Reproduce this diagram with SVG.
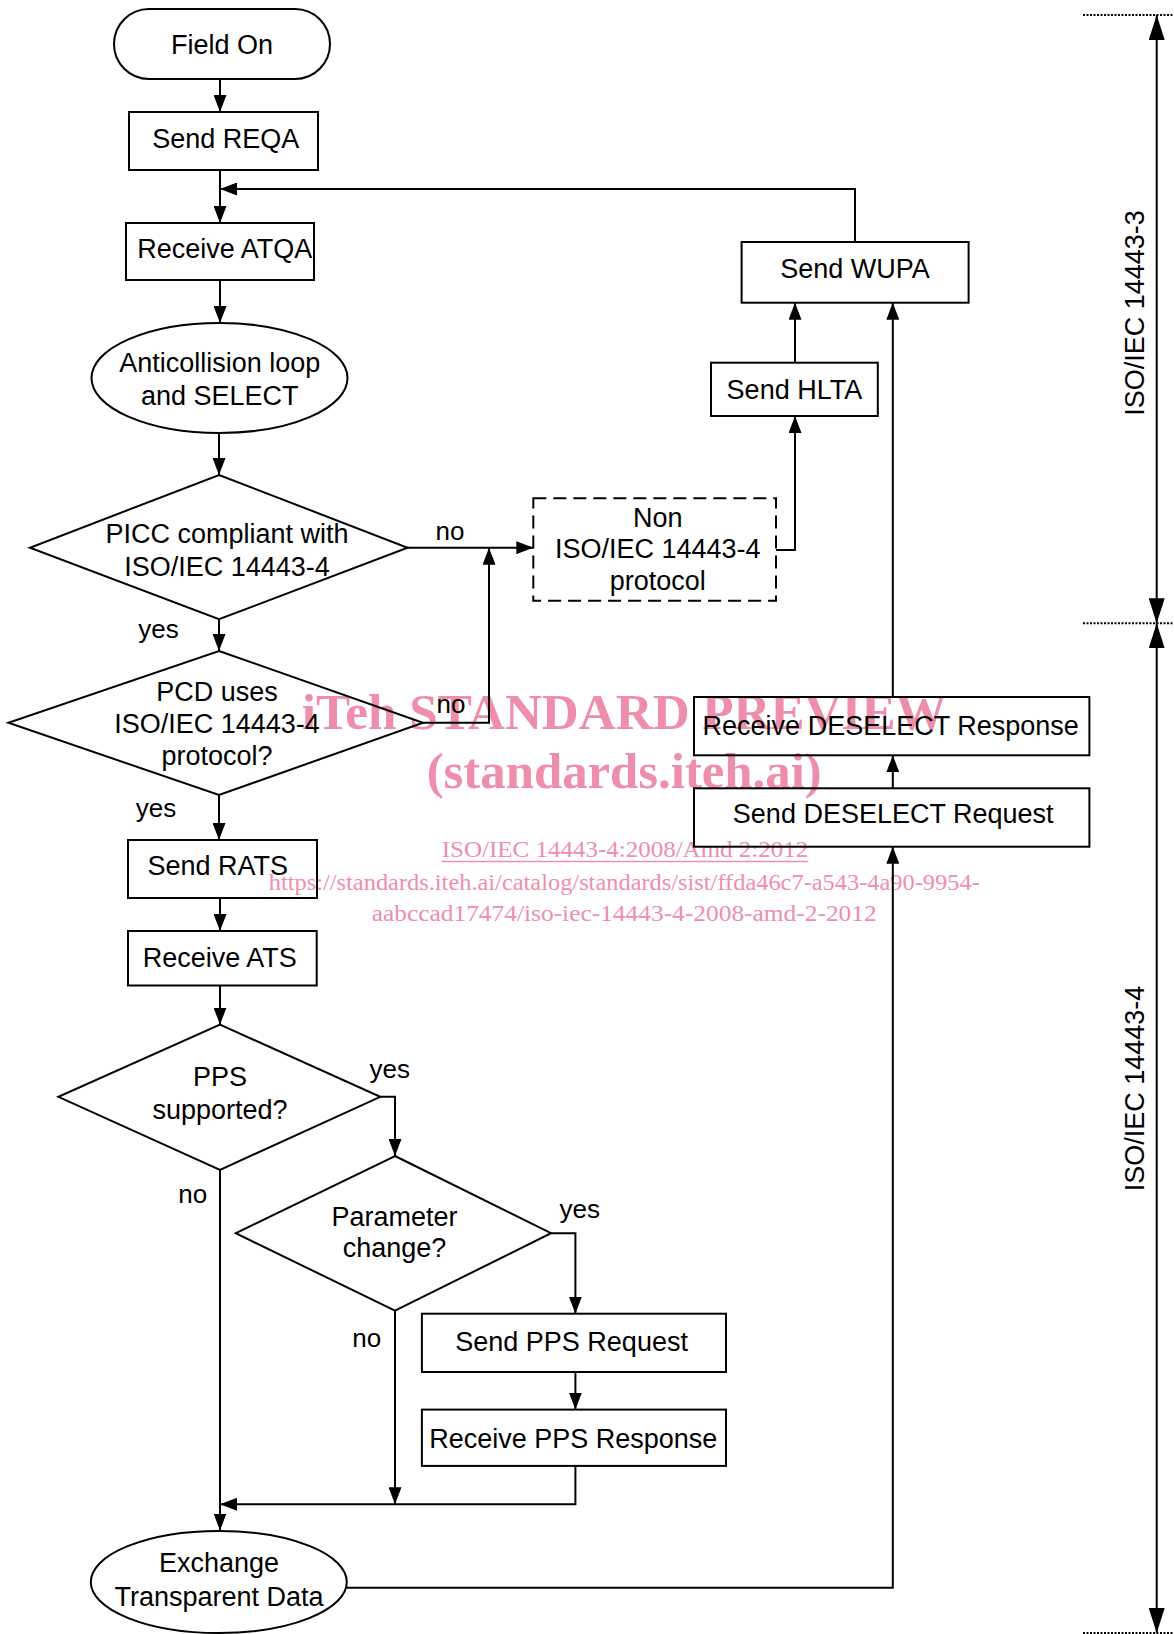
<svg xmlns="http://www.w3.org/2000/svg" width="1174" height="1634" viewBox="0 0 1174 1634">
<style>
.n{fill:none;stroke:#000;stroke-width:2}
.d{fill:none;stroke:#000;stroke-width:2;stroke-dasharray:13 7}
.t{font-family:"Liberation Sans",Arial,sans-serif;font-size:27px;fill:#000;text-anchor:middle}
.l{font-family:"Liberation Sans",Arial,sans-serif;font-size:26px;fill:#000;text-anchor:middle}
.c{fill:none;stroke:#000;stroke-width:2}
.a{marker-end:url(#ah)}
.b{marker-start:url(#bh);marker-end:url(#bh)}
.dot{fill:none;stroke:#000;stroke-width:2;stroke-dasharray:2 1.5}
.w{font-family:"Liberation Serif","Times New Roman",serif;fill:#ef8eab}
</style>
<defs>
<marker id="ah" viewBox="0 0 17 13" refX="17" refY="6.5" markerWidth="17" markerHeight="13" markerUnits="userSpaceOnUse" orient="auto"><path d="M0,0 L17,6.5 L0,13 z" fill="#000"/></marker>
<marker id="bh" viewBox="0 0 25 16" refX="25" refY="8" markerWidth="25" markerHeight="16" markerUnits="userSpaceOnUse" orient="auto-start-reverse"><path d="M0,0 L25,8 L0,16 z" fill="#000"/></marker>
</defs>

<g id="watermark">
<text class="w" x="301.7" y="729.3" font-size="51" font-weight="bold" textLength="645" lengthAdjust="spacingAndGlyphs">iTeh STANDARD PREVIEW</text>
<text class="w" x="426.7" y="788" font-size="51" font-weight="bold" textLength="395" lengthAdjust="spacingAndGlyphs">(standards.iteh.ai)</text>
<text class="w" x="441.7" y="856.7" font-size="23" textLength="366.6" lengthAdjust="spacingAndGlyphs">ISO/IEC 14443-4:2008/Amd 2:2012</text>
<path d="M441.7,861.5 H808.3" stroke="#ef8eab" stroke-width="1.5"/>
<text class="w" x="268.8" y="890" font-size="23" textLength="711" lengthAdjust="spacingAndGlyphs">https://standards.iteh.ai/catalog/standards/sist/ffda46c7-a543-4a90-9954-</text>
<text class="w" x="371.7" y="920.7" font-size="23" textLength="505" lengthAdjust="spacingAndGlyphs">aabccad17474/iso-iec-14443-4-2008-amd-2-2012</text>
</g>

<g id="connectors">
<path class="c a" d="M220,79 V112"/>
<path class="c a" d="M220,170 V223"/>
<path class="c a" d="M855,242 V189 H220"/>
<path class="c a" d="M220,280 V323"/>
<path class="c a" d="M219,433 V475"/>
<path class="c a" d="M407.6,547.7 H533.3"/>
<path class="c a" d="M219,619.3 V651"/>
<path class="c a" d="M423,722.7 H489 V547.7"/>
<path class="c a" d="M219,795 V840"/>
<path class="c a" d="M220,898 V931"/>
<path class="c a" d="M220,985.5 V1024.6"/>
<path class="c a" d="M380.3,1096.8 H395 V1156"/>
<path class="c a" d="M551,1233.2 H575.4 V1313.7"/>
<path class="c a" d="M575.4,1372 V1409.6"/>
<path class="c a" d="M575.4,1465.9 V1504.3 H220"/>
<path class="c a" d="M395,1310.7 V1504.3"/>
<path class="c a" d="M220,1169.8 V1530.5"/>
<path class="c a" d="M346.8,1587.7 H892.8 V846.7"/>
<path class="c a" d="M892.8,788.3 V755.3"/>
<path class="c a" d="M892.8,697 V302.7"/>
<path class="c a" d="M795,362.7 V302.7"/>
<path class="c a" d="M776,550 H795 V416"/>
<text class="l" x="450" y="540">no</text>
<text class="l" x="158.5" y="638">yes</text>
<text class="l" x="451" y="713">no</text>
<text class="l" x="156" y="816.7">yes</text>
<text class="l" x="389.8" y="1078">yes</text>
<text class="l" x="192.8" y="1203">no</text>
<text class="l" x="579.7" y="1217.7">yes</text>
<text class="l" x="366.8" y="1347">no</text>
</g>

<g id="field-on"><rect class="n" x="114" y="9" width="216" height="70" rx="35"/><text class="t" x="222" y="54">Field On</text></g>
<g id="send-reqa"><rect class="n" x="129" y="112" width="189" height="58"/><text class="t" x="225.8" y="147.7">Send REQA</text></g>
<g id="receive-atqa"><rect class="n" x="126" y="223" width="188" height="57"/><text class="t" x="224.7" y="258.3">Receive ATQA</text></g>
<g id="anticollision"><ellipse class="n" cx="219.5" cy="378" rx="128" ry="55"/><text class="t" x="219.7" y="372">Anticollision loop</text><text class="t" x="219.7" y="405">and SELECT</text></g>
<g id="picc-compliant"><path class="n" d="M219,475 L407.6,547.7 L219,619.3 L30,547.7 Z"/><text class="t" x="227" y="543">PICC compliant with</text><text class="t" x="227" y="575.7">ISO/IEC 14443-4</text></g>
<g id="pcd-uses"><path class="n" d="M219,651 L423,722.7 L219,795 L8.4,722.7 Z"/><text class="t" x="217" y="700.7">PCD uses</text><text class="t" x="217" y="732.7">ISO/IEC 14443-4</text><text class="t" x="217" y="765">protocol?</text></g>
<g id="send-rats"><rect class="n" x="128" y="840" width="189" height="58"/><text class="t" x="217.8" y="875">Send RATS</text></g>
<g id="receive-ats"><rect class="n" x="128" y="931" width="188.7" height="54.5"/><text class="t" x="219.8" y="967">Receive ATS</text></g>
<g id="pps-supported"><path class="n" d="M220,1024.6 L380.3,1096.8 L220,1169.8 L58.4,1096.8 Z"/><text class="t" x="220" y="1086.4">PPS</text><text class="t" x="220" y="1118.9">supported?</text></g>
<g id="parameter-change"><path class="n" d="M395,1156 L551,1233.2 L395,1310.7 L235.8,1233.2 Z"/><text class="t" x="394.6" y="1226">Parameter</text><text class="t" x="394.6" y="1257.4">change?</text></g>
<g id="send-pps"><rect class="n" x="421.9" y="1313.7" width="304.1" height="58.3"/><text class="t" x="571.6" y="1351.2">Send PPS Request</text></g>
<g id="receive-pps"><rect class="n" x="421.9" y="1409.6" width="304.1" height="56.3"/><text class="t" x="573.3" y="1448">Receive PPS Response</text></g>
<g id="exchange"><ellipse class="n" cx="218.8" cy="1582" rx="128" ry="51"/><text class="t" x="219" y="1572.3">Exchange</text><text class="t" x="219" y="1605.6">Transparent Data</text></g>
<g id="send-deselect"><rect class="n" x="694" y="788.3" width="395.4" height="58.4"/><text class="t" x="893.2" y="823.3">Send DESELECT Request</text></g>
<g id="receive-deselect"><rect class="n" x="694" y="697" width="395.4" height="58.3"/><text class="t" x="890.7" y="735">Receive DESELECT Response</text></g>
<g id="send-wupa"><rect class="n" x="741.6" y="242" width="227" height="60.7"/><text class="t" x="855" y="278.3">Send WUPA</text></g>
<g id="send-hlta"><rect class="n" x="711" y="362.7" width="166.8" height="53.3"/><text class="t" x="794.4" y="399.3">Send HLTA</text></g>
<g id="non-iso"><rect class="d" x="533.3" y="498.3" width="242.7" height="102.4"/><text class="t" x="657.7" y="526.7">Non</text><text class="t" x="657.7" y="558.3">ISO/IEC 14443-4</text><text class="t" x="657.7" y="590">protocol</text></g>

<g id="scope-14443-3">
<path class="dot" d="M1083,15 H1174"/>
<path class="c b" d="M1156.7,15 V623.3"/>
<text class="t" transform="translate(1144,313) rotate(-90)">ISO/IEC 14443-3</text>
</g>
<g id="scope-14443-4">
<path class="dot" d="M1083,623.3 H1174"/>
<path class="c b" d="M1156.7,623.3 V1633"/>
<path class="dot" d="M1083,1633 H1174"/>
<text class="t" transform="translate(1144,1088.5) rotate(-90)">ISO/IEC 14443-4</text>
</g>
</svg>
